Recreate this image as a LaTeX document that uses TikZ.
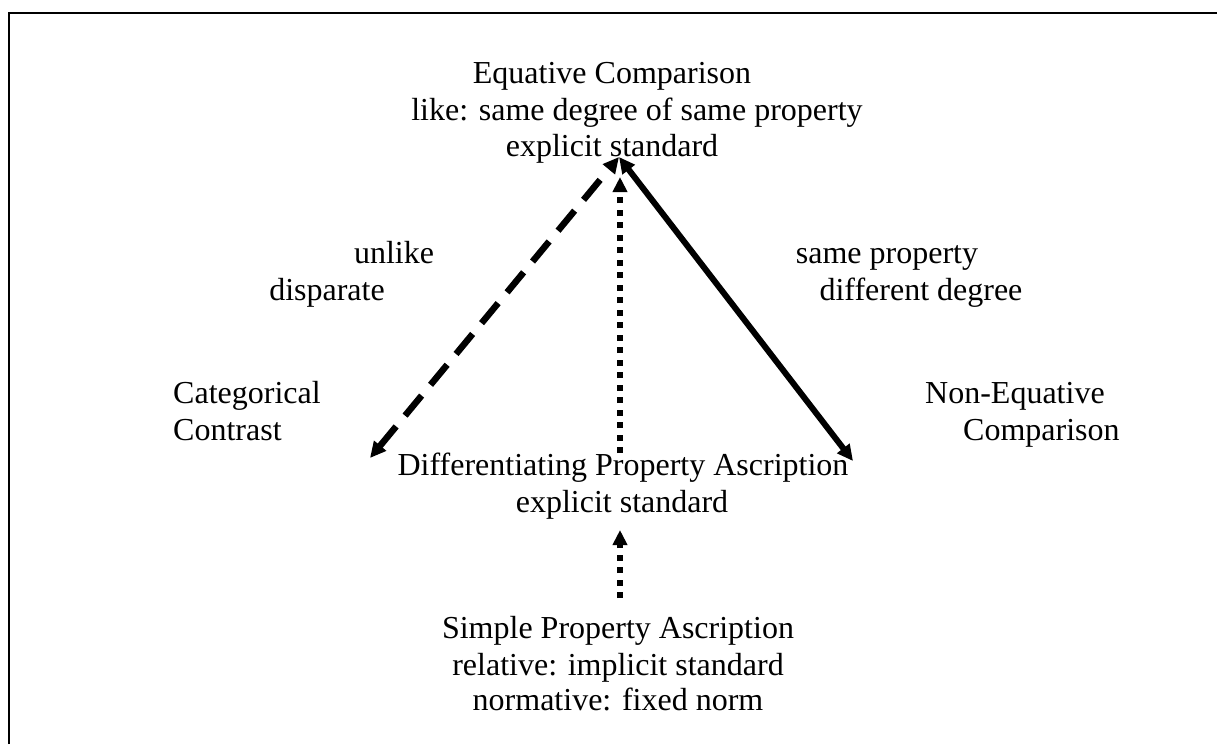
\documentclass[tikz,border=0pt]{standalone}
\usepackage{fontspec}
\setmainfont{Liberation Serif}
\usetikzlibrary{arrows.meta}
\begin{document}
\begin{tikzpicture}[x=1pt,y=-1pt,
  lbl/.style={anchor=base,inner sep=0pt,font=\fontsize{32}{37}\selectfont},
  lbll/.style={anchor=base west,inner sep=0pt,font=\fontsize{32}{37}\selectfont},
  solidarrow/.style={line width=6pt,{Triangle[length=16pt,width=15pt]}-{Triangle[length=16pt,width=15pt]}},
  dasharrow/.style={line width=6.5pt,dash pattern=on 26pt off 14pt,{Triangle[length=16pt,width=15pt]}-{Triangle[length=16pt,width=15pt]}},
  dotarrow/.style={line width=6pt,dash pattern=on 6pt off 6.5pt,-{Triangle[length=15pt,width=14pt]}}]
\useasboundingbox (0,0) rectangle (1217,744);
\fill[white] (0,0) rectangle (1217,744);
\draw[line width=2.5pt] (9,744) -- (9,13) -- (1217,13);
% texts
\node[lbl] (eq1) at (612,83) {Equative Comparison};
\node[lbl] (eq2) at (637,120) {like: same degree of same property};
\node[lbl] (eq3) at (612,156) {explicit standard};
\node[lbl] (ul1) at (394,263) {unlike};
\node[lbl] (ul2) at (327,300) {disparate};
\node[lbl] (sp1) at (887,263) {same property};
\node[lbl] (sp2) at (921,300) {different degree};
\node[lbll] (cc1) at (173,403) {Categorical};
\node[lbll] (cc2) at (173,440) {Contrast};
\node[lbll] (ne1) at (925,403) {Non-Equative};
\node[lbll] (ne2) at (963,440) {Comparison};
\node[lbl] (dp1) at (623,475) {Differentiating Property Ascription};
\node[lbl] (dp2) at (622,512) {explicit standard};
\node[lbl] (sa1) at (618,638) {Simple Property Ascription};
\node[lbl] (sa2) at (618,675) {relative: implicit standard};
\node[lbl] (sa3) at (618,710) {normative: fixed norm};
% connector ends
\coordinate (top) at (619,157);
\coordinate (catend) at (370,458);
\coordinate (neend) at (853,461);
\coordinate (dpbot) at (620,453);
\coordinate (dptop) at (620,177);
\coordinate (sabot) at (620,598);
\coordinate (satop) at (620,530);
% connectors
\draw[dasharrow] (catend) -- (top);
\draw[solidarrow] (top) -- (neend);
\draw[dotarrow] (dpbot) -- (dptop);
\draw[dotarrow] (sabot) -- (satop);
\end{tikzpicture}
\end{document}
